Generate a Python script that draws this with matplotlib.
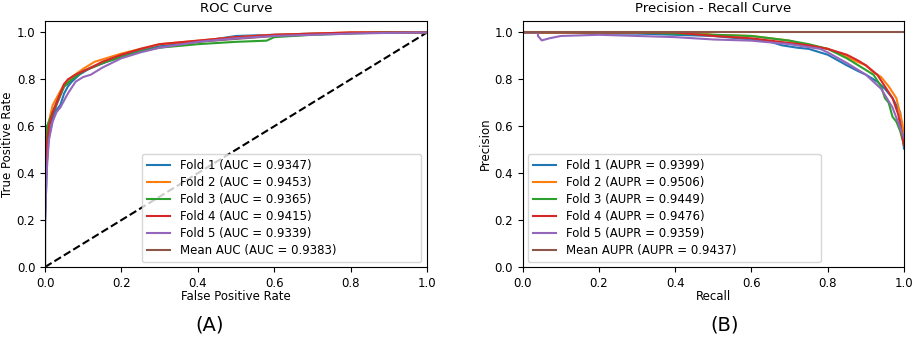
import matplotlib
matplotlib.use('Agg')
import matplotlib.pyplot as plt

plt.rcParams['font.family'] = 'DejaVu Sans'

# ROC curves
roc_fpr_1 = [0, 0, 0.005, 0.01, 0.02, 0.03, 0.04, 0.05, 0.06, 0.07, 0.09, 0.12, 0.16, 0.2, 0.25, 0.3, 0.4, 0.5, 0.6, 0.7, 0.8, 0.9, 1.0]
roc_tpr_1 = [0, 0.17, 0.45, 0.55, 0.63, 0.67, 0.69, 0.74, 0.77, 0.79, 0.82, 0.85, 0.875, 0.895, 0.925, 0.94, 0.96, 0.985, 0.99, 0.995, 0.998, 1.0, 1.0]
roc_fpr_2 = [0, 0, 0.005, 0.01, 0.02, 0.03, 0.05, 0.07, 0.1, 0.13, 0.16, 0.2, 0.25, 0.3, 0.4, 0.5, 0.6, 0.7, 0.8, 0.85, 1.0]
roc_tpr_2 = [0, 0.51, 0.56, 0.62, 0.69, 0.72, 0.78, 0.81, 0.845, 0.875, 0.89, 0.91, 0.93, 0.95, 0.965, 0.98, 0.99, 0.995, 1.0, 1.0, 1.0]
roc_fpr_3 = [0, 0, 0.005, 0.01, 0.02, 0.03, 0.05, 0.07, 0.1, 0.15, 0.2, 0.25, 0.3, 0.4, 0.5, 0.58, 0.6, 0.7, 0.8, 0.88, 1.0]
roc_tpr_3 = [0, 0.4, 0.6, 0.62, 0.66, 0.70, 0.77, 0.80, 0.835, 0.87, 0.895, 0.92, 0.935, 0.95, 0.96, 0.965, 0.98, 0.99, 0.995, 1.0, 1.0]
roc_fpr_4 = [0, 0, 0.005, 0.01, 0.02, 0.03, 0.04, 0.05, 0.06, 0.08, 0.1, 0.12, 0.15, 0.2, 0.25, 0.3, 0.4, 0.5, 0.6, 0.7, 0.8, 1.0]
roc_tpr_4 = [0, 0.35, 0.52, 0.6, 0.66, 0.70, 0.74, 0.78, 0.80, 0.82, 0.835, 0.85, 0.875, 0.905, 0.93, 0.95, 0.965, 0.98, 0.99, 0.995, 1.0, 1.0]
roc_fpr_5 = [0, 0, 0.005, 0.01, 0.02, 0.03, 0.04, 0.06, 0.08, 0.1, 0.12, 0.15, 0.2, 0.25, 0.3, 0.4, 0.5, 0.6, 0.7, 0.8, 0.9, 1.0]
roc_tpr_5 = [0, 0.2, 0.42, 0.54, 0.62, 0.66, 0.68, 0.74, 0.79, 0.81, 0.82, 0.85, 0.89, 0.915, 0.935, 0.96, 0.975, 0.985, 0.99, 0.995, 0.998, 1.0]
roc_fpr_mean = [0, 0.01, 0.03, 0.05, 0.1, 0.2, 0.3, 0.4, 0.6, 0.8, 1.0]
roc_tpr_mean = [0.3, 0.6, 0.69, 0.77, 0.835, 0.9, 0.94, 0.96, 0.985, 0.998, 1.0]
roc_labels = ['Fold 1 (AUC = 0.9347)', 'Fold 2 (AUC = 0.9453)', 'Fold 3 (AUC = 0.9365)',
              'Fold 4 (AUC = 0.9415)', 'Fold 5 (AUC = 0.9339)', 'Mean AUC (AUC = 0.9383)']

# Precision - recall curves
pr_rec_1 = [0, 0.13, 0.2, 0.3, 0.4, 0.5, 0.6, 0.65, 0.68, 0.72, 0.75, 0.8, 0.85, 0.88, 0.9, 0.93, 0.95, 0.97, 0.99, 1.0]
pr_prec_1 = [1.0, 1.0, 0.995, 0.995, 0.99, 0.985, 0.97, 0.96, 0.945, 0.935, 0.93, 0.905, 0.86, 0.835, 0.82, 0.79, 0.76, 0.72, 0.66, 0.505]
pr_rec_2 = [0, 0.2, 0.3, 0.45, 0.5, 0.6, 0.65, 0.7, 0.73, 0.8, 0.84, 0.87, 0.9, 0.92, 0.94, 0.96, 0.98, 0.995, 1.0]
pr_prec_2 = [1.0, 1.0, 1.0, 1.0, 0.99, 0.985, 0.975, 0.965, 0.95, 0.93, 0.905, 0.88, 0.86, 0.83, 0.81, 0.77, 0.72, 0.62, 0.56]
pr_rec_3 = [0, 0.3, 0.4, 0.5, 0.6, 0.65, 0.7, 0.75, 0.8, 0.85, 0.9, 0.92, 0.94, 0.95, 0.96, 0.97, 0.98, 0.99, 1.0]
pr_prec_3 = [1.0, 1.0, 0.995, 0.99, 0.985, 0.975, 0.965, 0.95, 0.93, 0.89, 0.84, 0.82, 0.77, 0.72, 0.70, 0.64, 0.62, 0.58, 0.52]
pr_rec_4 = [0, 0.4, 0.5, 0.6, 0.65, 0.7, 0.75, 0.8, 0.85, 0.88, 0.9, 0.93, 0.95, 0.97, 0.985, 1.0]
pr_prec_4 = [1.0, 1.0, 0.985, 0.975, 0.965, 0.955, 0.945, 0.93, 0.905, 0.88, 0.86, 0.82, 0.77, 0.72, 0.65, 0.52]
pr_rec_5 = [0, 0.04, 0.04, 0.05, 0.07, 0.1, 0.2, 0.3, 0.4, 0.5, 0.6, 0.7, 0.78, 0.8, 0.85, 0.9, 0.94, 0.97, 1.0]
pr_prec_5 = [1.0, 1.0, 0.985, 0.966, 0.975, 0.985, 0.99, 0.985, 0.98, 0.97, 0.965, 0.95, 0.93, 0.915, 0.87, 0.82, 0.76, 0.68, 0.55]
pr_rec_mean = [0, 1.0]
pr_prec_mean = [1.0, 1.0]
pr_labels = ['Fold 1 (AUPR = 0.9399)', 'Fold 2 (AUPR = 0.9506)', 'Fold 3 (AUPR = 0.9449)',
             'Fold 4 (AUPR = 0.9476)', 'Fold 5 (AUPR = 0.9359)', 'Mean AUPR (AUPR = 0.9437)']

roc_x = [roc_fpr_1, roc_fpr_2, roc_fpr_3, roc_fpr_4, roc_fpr_5]
roc_y = [roc_tpr_1, roc_tpr_2, roc_tpr_3, roc_tpr_4, roc_tpr_5]
pr_x = [pr_rec_1, pr_rec_2, pr_rec_3, pr_rec_4, pr_rec_5]
pr_y = [pr_prec_1, pr_prec_2, pr_prec_3, pr_prec_4, pr_prec_5]

fs = 8.5
fig = plt.figure(figsize=(9.13, 3.5), dpi=100)
ax1 = fig.add_axes([0.0493, 0.2371, 0.4184, 0.7037])
ax2 = fig.add_axes([0.5725, 0.2371, 0.4176, 0.7037])

# ROC
ax1.plot([0, 1], [0, 1], 'k--', lw=1.5)
ax1.plot(roc_fpr_mean, roc_tpr_mean, color='C5', lw=1.5, zorder=1, label=roc_labels[5])
for i in range(5):
    ax1.plot(roc_x[i], roc_y[i], color='C%d' % i, lw=1.5, zorder=2, label=roc_labels[i])
h, l = ax1.get_legend_handles_labels()
order = [1, 2, 3, 4, 5, 0]
ax1.legend([h[k] for k in order], [l[k] for k in order], loc='lower left',
           bbox_to_anchor=(0.254, 0.02, 0.73, 0.43), mode='expand', borderaxespad=0,
           fontsize=fs, labelspacing=0.35)
ax1.set_xlim(0, 1)
ax1.set_ylim(0, 1.05)
ax1.set_title('ROC Curve', fontsize=9.5)
ax1.set_xlabel('False Positive Rate', fontsize=fs)
ax1.set_ylabel('True Positive Rate', fontsize=fs)
ax1.xaxis.set_label_coords(0.5, -0.095)
ax1.yaxis.set_label_coords(-0.08, 0.5)
ax1.tick_params(labelsize=fs)

# PR
for i in range(5):
    ax2.plot(pr_x[i], pr_y[i], color='C%d' % i, lw=1.5, label=pr_labels[i])
ax2.plot(pr_rec_mean, pr_prec_mean, color='C5', lw=1.5, label=pr_labels[5])
ax2.legend(loc='lower left', bbox_to_anchor=(0.014, 0.02, 0.768, 0.43), mode='expand',
           borderaxespad=0, fontsize=fs, labelspacing=0.35)
ax2.set_xlim(0, 1)
ax2.set_ylim(0, 1.05)
ax2.set_title('Precision - Recall Curve', fontsize=9.5)
ax2.set_xlabel('Recall', fontsize=fs)
ax2.set_ylabel('Precision', fontsize=fs)
ax2.xaxis.set_label_coords(0.5, -0.095)
ax2.yaxis.set_label_coords(-0.08, 0.5)
ax2.tick_params(labelsize=fs)

fig.text(0.23, 0.071, '(A)', fontsize=14, ha='center', va='center')
fig.text(0.794, 0.071, '(B)', fontsize=14, ha='center', va='center')

fig.savefig('out.png', dpi=100)
